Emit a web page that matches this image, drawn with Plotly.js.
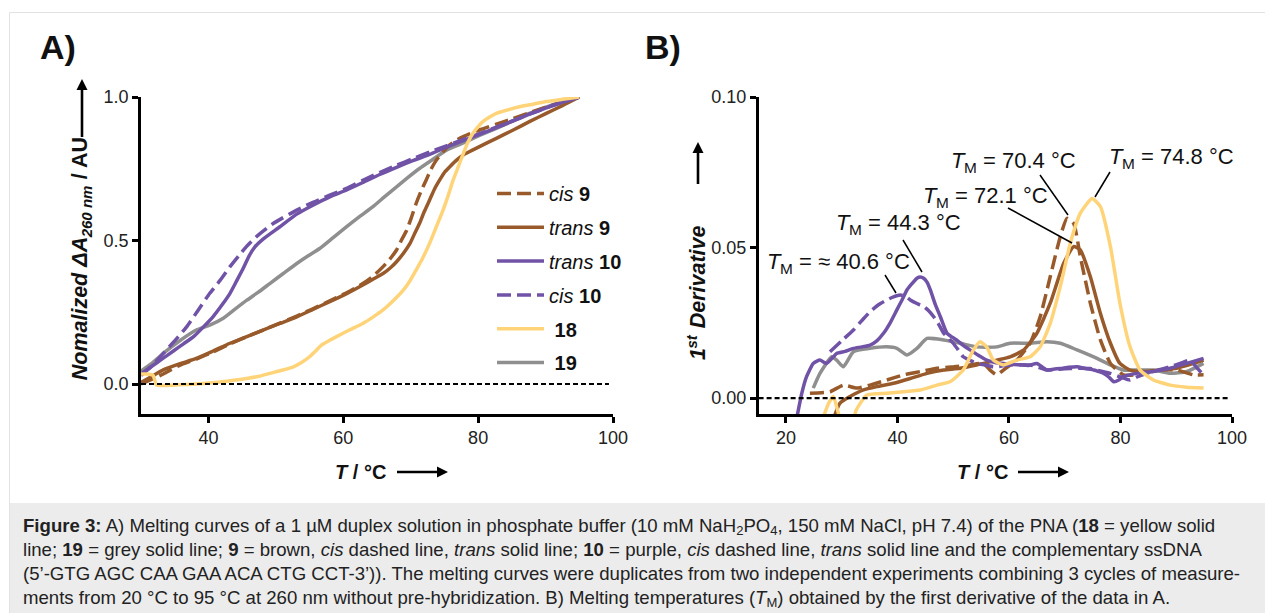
<!DOCTYPE html>
<html>
<head>
<meta charset="utf-8">
<script src="https://cdn.plot.ly/plotly-3.0.1.min.js"></script>
<style>
  html, body { margin: 0; padding: 0; background: #ffffff; }
  #chart { position: absolute; left: 0; top: 0; width: 1265px; height: 613px; }
  #cap { position: absolute; left: 23px; top: 514px; font-family: 'Liberation Sans', Arial, Helvetica, sans-serif;
         font-size: 18.6px; color: #222; line-height: 24px; white-space: nowrap; pointer-events: none; }
  #cap sub { font-size: 70%; line-height: 0; vertical-align: -0.25em; }
</style>
</head>
<body>
<div id="chart"></div>
<div id="cap"></div>
<script>
// ---------------- DATA: panel A (normalized absorbance) ----------------
const aTrans10X = [30, 31.5, 33.3, 34.8, 36.3, 37.8, 39.3, 40.7, 42.0, 43.2, 44.2, 45.2, 46.0, 46.9, 48.1, 50.6, 53.1, 55.5, 58.0, 60.5, 62.9, 65.4, 67.9, 70.3, 72.8, 75.3, 77.8, 80.2, 82.7, 85.2, 87.6, 90.1, 92.5, 95];
const aTrans10Y = [0.035, 0.06, 0.09, 0.115, 0.14, 0.165, 0.20, 0.235, 0.275, 0.316, 0.36, 0.405, 0.445, 0.478, 0.505, 0.548, 0.592, 0.623, 0.652, 0.676, 0.702, 0.73, 0.755, 0.778, 0.80, 0.825, 0.848, 0.87, 0.893, 0.917, 0.94, 0.962, 0.982, 1.0];

const aCis10X = [30, 31.5, 33.3, 35.0, 36.8, 38.5, 40.2, 41.7, 43.2, 44.5, 45.6, 47.1, 49.6, 53.1, 55.5, 58.0, 60.5, 62.9, 65.4, 67.9, 70.3, 72.8, 75.3, 77.8, 80.2, 82.7, 85.2, 87.6, 90.1, 92.5, 95];
const aCis10Y = [0.03, 0.06, 0.107, 0.15, 0.20, 0.258, 0.316, 0.36, 0.409, 0.447, 0.478, 0.513, 0.559, 0.606, 0.633, 0.658, 0.682, 0.71, 0.737, 0.762, 0.785, 0.808, 0.83, 0.852, 0.872, 0.895, 0.918, 0.94, 0.962, 0.982, 1.0];

const a19X = [30, 31.5, 33.3, 35.7, 38.2, 40.2, 42.2, 43.9, 45.7, 47.4, 49.1, 51.1, 53.1, 54.8, 56.5, 58.5, 60.5, 62.4, 64.4, 66.1, 67.9, 69.6, 71.3, 73.3, 75.3, 77.8, 80.2, 82.7, 85.2, 87.6, 90.1, 92.5, 95];
const a19Y = [0.045, 0.07, 0.107, 0.15, 0.188, 0.205, 0.229, 0.26, 0.292, 0.32, 0.35, 0.385, 0.42, 0.447, 0.472, 0.51, 0.548, 0.583, 0.618, 0.652, 0.687, 0.72, 0.751, 0.783, 0.815, 0.84, 0.866, 0.891, 0.917, 0.943, 0.965, 0.983, 1.0];

const aTrans9X = [30, 31.5, 33.3, 35.7, 38.2, 40.7, 43.2, 45.7, 48.1, 50.6, 53.1, 55.5, 58.0, 60.5, 62.9, 64.4, 65.9, 67.0, 67.9, 68.9, 69.9, 70.6, 71.3, 72.0, 72.8, 73.5, 74.3, 75.0, 75.8, 76.8, 77.8, 79.0, 80.2, 82.7, 85.2, 87.6, 90.1, 92.5, 95];
const aTrans9Y = [0.005, 0.025, 0.049, 0.07, 0.089, 0.115, 0.142, 0.165, 0.188, 0.211, 0.234, 0.26, 0.287, 0.315, 0.345, 0.365, 0.385, 0.405, 0.426, 0.455, 0.49, 0.525, 0.559, 0.60, 0.641, 0.678, 0.711, 0.737, 0.757, 0.78, 0.798, 0.813, 0.827, 0.856, 0.885, 0.914, 0.943, 0.97, 1.0];

const aCis9X = [30, 31.5, 33.3, 35.7, 38.2, 40.7, 43.2, 45.7, 48.1, 50.6, 53.1, 55.5, 58.0, 60.5, 62.9, 64.4, 65.9, 66.9, 67.9, 68.6, 69.4, 70.1, 70.8, 71.5, 72.3, 73.0, 73.8, 74.8, 75.8, 76.8, 77.8, 80.2, 82.7, 85.2, 87.6, 90.1, 92.5, 95];
const aCis9Y = [0.0, 0.015, 0.035, 0.065, 0.087, 0.112, 0.14, 0.165, 0.188, 0.212, 0.237, 0.262, 0.29, 0.318, 0.35, 0.375, 0.409, 0.435, 0.467, 0.5, 0.536, 0.58, 0.629, 0.67, 0.711, 0.748, 0.78, 0.81, 0.833, 0.85, 0.862, 0.885, 0.905, 0.925, 0.945, 0.965, 0.983, 1.0];

const a18X = [30, 31.0, 31.8, 32.3, 33.5, 35.5, 38.2, 41.0, 43.5, 45.7, 47.5, 49.1, 50.9, 52.6, 53.8, 55.0, 55.9, 56.8, 57.8, 59.0, 60.9, 62.9, 64.4, 65.9, 67.4, 68.9, 69.9, 70.8, 71.8, 72.8, 73.8, 74.8, 75.6, 76.3, 77.1, 77.8, 78.5, 79.2, 80.0, 80.7, 81.7, 82.7, 84.4, 86.1, 88.1, 90.1, 92.5, 95];
const a18Y = [0.035, 0.035, 0.03, -0.004, -0.005, -0.003, 0.0, 0.005, 0.012, 0.019, 0.027, 0.037, 0.048, 0.06, 0.075, 0.095, 0.115, 0.136, 0.15, 0.165, 0.188, 0.211, 0.233, 0.258, 0.29, 0.327, 0.36, 0.397, 0.44, 0.49, 0.548, 0.606, 0.66, 0.711, 0.76, 0.803, 0.843, 0.873, 0.897, 0.914, 0.93, 0.943, 0.955, 0.966, 0.975, 0.984, 0.992, 1.0];

// ---------------- DATA: panel B (first derivative) ----------------
const bTrans10X = [21.8, 22.85, 23.7, 24.9, 26.1, 27.3, 29.1, 30.6, 32.1, 33.6, 35.1, 36.3, 37.5, 38.7, 39.9, 40.8, 41.7, 42.6, 43.5, 44.1, 44.7, 45.3, 45.9, 46.8, 47.7, 48.9, 50.6, 51.8, 53.0, 54.5, 56.0, 57.5, 59.0, 60.5, 62.0, 63.5, 65.0, 66.8, 68.0, 69.2, 70.7, 72.2, 73.7, 75.2, 76.1, 77.0, 77.9, 78.8, 79.7, 80.5, 82.9, 85.9, 88.9, 91.9, 94.9];
const bTrans10Y = [-0.008, 0.0016, 0.0071, 0.0115, 0.0126, 0.0115, 0.0148, 0.0155, 0.0165, 0.017, 0.0176, 0.019, 0.0215, 0.025, 0.0293, 0.0325, 0.0359, 0.038, 0.0398, 0.0402, 0.0398, 0.0385, 0.0359, 0.031, 0.027, 0.0215, 0.0193, 0.0175, 0.016, 0.0142, 0.0126, 0.0118, 0.0115, 0.0112, 0.011, 0.0108, 0.0115, 0.0093, 0.0096, 0.0098, 0.0102, 0.0104, 0.0098, 0.0093, 0.0088, 0.0082, 0.007, 0.0054, 0.006, 0.0071, 0.0082, 0.0088, 0.0099, 0.0115, 0.0132];

const bCis10X = [27.9, 30.0, 32.1, 33.6, 35.1, 36.6, 38.1, 39.3, 40.5, 41.4, 42.3, 43.5, 44.7, 45.6, 46.5, 47.4, 48.3, 49.2, 50.0, 50.9, 51.8, 53.0, 54.2, 55.7, 57.2, 58.7, 60.2, 62.0, 63.8, 65.3, 66.8, 69.0, 71.0, 72.8, 74.6, 76.4, 78.2, 80.0, 81.7, 83.2, 84.7, 86.8, 88.9, 90.7, 92.5, 93.7, 94.9];
const bCis10Y = [0.0154, 0.019, 0.0226, 0.0257, 0.0287, 0.031, 0.0326, 0.0336, 0.0342, 0.0338, 0.0326, 0.0314, 0.0304, 0.029, 0.027, 0.0245, 0.0215, 0.0198, 0.0182, 0.016, 0.0137, 0.0125, 0.0115, 0.011, 0.0104, 0.0106, 0.011, 0.0111, 0.011, 0.0102, 0.0093, 0.0096, 0.0098, 0.0099, 0.0098, 0.009, 0.0082, 0.007, 0.006, 0.0072, 0.0082, 0.0093, 0.0104, 0.0115, 0.0126, 0.01, 0.0077];

const b19X = [24.9, 26.1, 28.2, 29.1, 30.3, 32.1, 35.1, 38.1, 39.9, 41.7, 43.5, 45.3, 48.3, 51.3, 54.2, 57.8, 60.2, 63.8, 66.8, 69.2, 72.2, 75.2, 78.2, 80.5, 82.9, 85.9, 88.9, 91.9, 94.9];
const b19Y = [0.0033, 0.0082, 0.0137, 0.0126, 0.0104, 0.0154, 0.0165, 0.017, 0.0165, 0.0143, 0.0165, 0.0198, 0.0193, 0.0182, 0.017, 0.017, 0.0182, 0.0182, 0.0187, 0.0182, 0.016, 0.0137, 0.011, 0.0093, 0.0093, 0.0093, 0.0082, 0.0088, 0.0115];

const bCis9X = [24.3, 27.9, 30.3, 32.7, 35.1, 38.1, 41.1, 44.1, 47.1, 50.1, 53.0, 55.4, 56.6, 57.8, 59.0, 61.4, 63.8, 65.6, 67.4, 69.2, 70.4, 71.6, 72.8, 74.6, 76.4, 78.2, 80.5, 82.9, 86.5, 90.1, 93.1, 94.9];
const bCis9Y = [0.0016, 0.0021, 0.0043, 0.0033, 0.0043, 0.006, 0.0077, 0.0088, 0.0099, 0.0104, 0.011, 0.0115, 0.0093, 0.0077, 0.0093, 0.0126, 0.0182, 0.027, 0.0403, 0.0536, 0.0597, 0.058, 0.047, 0.0315, 0.0193, 0.0115, 0.0077, 0.0077, 0.0093, 0.0093, 0.0077, 0.0077];

const bTrans9X = [28.3, 29.7, 31.5, 33.9, 36.3, 39.3, 42.3, 45.3, 48.3, 51.2, 54.2, 57.8, 60.2, 62.6, 65.0, 67.4, 69.8, 71.6, 72.8, 74.6, 76.4, 78.2, 79.9, 81.7, 84.1, 87.1, 90.1, 93.1, 94.9];
const bTrans9Y = [-0.008, -0.0017, 0.0005, 0.0027, 0.0038, 0.0049, 0.0065, 0.0082, 0.0093, 0.0099, 0.011, 0.0126, 0.0137, 0.0159, 0.0215, 0.0315, 0.0447, 0.0503, 0.0492, 0.0403, 0.0281, 0.0182, 0.0115, 0.0093, 0.0088, 0.0093, 0.0099, 0.0115, 0.0126];

const b18X = [26.4, 27.6, 28.5, 29.4, 30.0, 31.8, 32.6, 34.5, 38.1, 41.1, 44.1, 47.1, 49.5, 51.8, 53.6, 54.8, 56.0, 57.2, 59.0, 61.4, 63.8, 65.6, 67.4, 69.2, 71.0, 72.8, 74.9, 76.4, 78.2, 79.9, 81.7, 83.5, 85.9, 88.9, 91.9, 94.9];
const b18Y = [-0.008, -0.002, 0.0005, -0.005, -0.009, -0.009, -0.004, 0.001, 0.0016, 0.0021, 0.0027, 0.0043, 0.0055, 0.0093, 0.0159, 0.0187, 0.017, 0.0126, 0.011, 0.0126, 0.0137, 0.017, 0.0248, 0.037, 0.0514, 0.0614, 0.0663, 0.0636, 0.0503, 0.0315, 0.0171, 0.0093, 0.006, 0.0043, 0.0036, 0.0033];

// Tm labels of panel B
const tmLabels = ['≈ 40.6', '44.3', '72.1', '70.4', '74.8'];

// Caption lines
const capLines = [
  '<b>Figure 3:</b> A) Melting curves of a 1 µM duplex solution in phosphate buffer (10 mM NaH<sub>2</sub>PO<sub>4</sub>, 150 mM NaCl, pH 7.4) of the PNA (<b>18</b> = yellow solid',
  'line; <b>19</b> = grey solid line; <b>9</b> = brown, <i>cis</i> dashed line, <i>trans</i> solid line; <b>10</b> = purple, <i>cis</i> dashed line, <i>trans</i> solid line and the complementary ssDNA',
  '(5’-GTG AGC CAA GAA ACA CTG CCT-3’)). The melting curves were duplicates from two independent experiments combining 3 cycles of measure-',
  'ments from 20 °C to 95 °C at 260 nm without pre-hybridization. B) Melting temperatures (<i>T</i><sub>M</sub>) obtained by the first derivative of the data in A.'
];

// ---------------- styling ----------------
const BROWN = '#985a2a', PURPLE = '#7053a6', YELLOW = '#ffd479', GRAY = '#8f8f8f';
const W = 1265, H = 613;
const px = v => v / W;
const py = v => 1 - v / H;
const FONT = 'Liberation Sans, Arial, Helvetica, sans-serif';
const LW = 3.5;
const DASH = '14px,6px';

function tr(x, y, color, dash, name, group, rank, xa, ya, show) {
  return {
    x: x, y: y, type: 'scatter', mode: 'lines', name: name,
    legendgroup: group, legendrank: rank, showlegend: show,
    xaxis: xa, yaxis: ya, hoverinfo: 'skip',
    line: { color: color, width: LW, dash: dash, shape: 'spline', smoothing: 0.5 }
  };
}

const data = [
  tr(a19X, a19Y, GRAY, 'solid', ' <b>19</b>', 'g19', 6, 'x', 'y', true),
  tr(aCis9X, aCis9Y, BROWN, DASH, '<i>cis</i> <b>9</b>', 'gc9', 1, 'x', 'y', true),
  tr(aTrans9X, aTrans9Y, BROWN, 'solid', '<i>trans</i> <b>9</b>', 'gt9', 2, 'x', 'y', true),
  tr(aCis10X, aCis10Y, PURPLE, DASH, '<i>cis</i> <b>10</b>', 'gc10', 4, 'x', 'y', true),
  tr(aTrans10X, aTrans10Y, PURPLE, 'solid', '<i>trans</i> <b>10</b>', 'gt10', 3, 'x', 'y', true),
  tr(a18X, a18Y, YELLOW, 'solid', ' <b>18</b>', 'g18', 5, 'x', 'y', true),

  tr(b19X, b19Y, GRAY, 'solid', '19', 'g19', 6, 'x2', 'y2', false),
  tr(bCis9X, bCis9Y, BROWN, DASH, 'cis 9', 'gc9', 1, 'x2', 'y2', false),
  tr(bTrans9X, bTrans9Y, BROWN, 'solid', 'trans 9', 'gt9', 2, 'x2', 'y2', false),
  tr(bCis10X, bCis10Y, PURPLE, DASH, 'cis 10', 'gc10', 4, 'x2', 'y2', false),
  tr(bTrans10X, bTrans10Y, PURPLE, 'solid', 'trans 10', 'gt10', 3, 'x2', 'y2', false),
  tr(b18X, b18Y, YELLOW, 'solid', '18', 'g18', 5, 'x2', 'y2', false)
];

const axisCommon = {
  showgrid: false, zeroline: false, showline: true, linecolor: '#000', linewidth: 2.5,
  ticks: 'outside', ticklen: 6, tickwidth: 2.5, tickcolor: '#000',
  tickfont: { family: FONT, size: 18, color: '#222' }, fixedrange: true
};

const yDom = [py(414), py(97)];

const shapes = [
  // caption background and figure frame
  { type: 'rect', xref: 'paper', yref: 'paper', x0: px(9.5), x1: px(1266), y0: py(614), y1: py(503), fillcolor: '#ececec', line: { width: 0 }, layer: 'below' },
  { type: 'rect', xref: 'paper', yref: 'paper', x0: px(9.5), x1: px(1270), y0: py(620), y1: py(12.5), fillcolor: 'rgba(0,0,0,0)', line: { color: '#e2e2e2', width: 1 }, layer: 'below' },
  // zero reference lines
  { type: 'line', xref: 'x', yref: 'y', x0: 30, x1: 99.4, y0: 0, y1: 0, line: { color: '#000', width: 2.2, dash: '5px,3px' } },
  { type: 'line', xref: 'x2', yref: 'y2', x0: 15.1, x1: 99.6, y0: 0, y1: 0, line: { color: '#000', width: 2.2, dash: '5px,3px' } },
  // Tm leader lines
  { type: 'line', xref: 'paper', yref: 'paper', x0: px(885), y0: py(275), x1: px(896), y1: py(293), line: { color: '#000', width: 1.5 } },
  { type: 'line', xref: 'paper', yref: 'paper', x0: px(903), y0: py(240), x1: px(922), y1: py(272), line: { color: '#000', width: 1.5 } },
  { type: 'line', xref: 'paper', yref: 'paper', x0: px(1008), y0: py(208), x1: px(1072), y1: py(243), line: { color: '#000', width: 1.5 } },
  { type: 'line', xref: 'paper', yref: 'paper', x0: px(1040), y0: py(175), x1: px(1068), y1: py(215), line: { color: '#000', width: 1.5 } },
  { type: 'line', xref: 'paper', yref: 'paper', x0: px(1110), y0: py(172), x1: px(1095), y1: py(197), line: { color: '#000', width: 1.5 } }
];

// arrow = shaft line + filled triangular head (pixel coordinates converted to paper)
function arrowShape(x0, y0, x1, y1) {
  const dx = x1 - x0, dy = y1 - y0, L = Math.hypot(dx, dy);
  const ux = dx / L, uy = dy / L, head = 11, half = 5.5;
  const bx = x1 - ux * head, by = y1 - uy * head;
  shapes.push({ type: 'line', xref: 'paper', yref: 'paper', x0: px(x0), y0: py(y0), x1: px(bx + ux), y1: py(by + uy), line: { color: '#000', width: 2.6 } });
  const p1 = [bx - uy * half, by + ux * half], p2 = [bx + uy * half, by - ux * half];
  shapes.push({
    type: 'path', xref: 'paper', yref: 'paper', fillcolor: '#000', line: { width: 0 },
    path: 'M' + px(x1) + ',' + py(y1) + ' L' + px(p1[0]) + ',' + py(p1[1]) + ' L' + px(p2[0]) + ',' + py(p2[1]) + ' Z'
  });
}
arrowShape(397, 472, 448, 472);     // A x-axis arrow
arrowShape(1018, 472, 1069, 472);   // B x-axis arrow
arrowShape(82, 137, 82, 79);        // A y-axis arrow
arrowShape(698, 184, 698, 142);     // B y-axis arrow

const layout = {
  width: W, height: H,
  margin: { l: 0, r: 0, t: 0, b: 0, pad: 0 },
  paper_bgcolor: 'rgba(0,0,0,0)', plot_bgcolor: 'rgba(0,0,0,0)',
  font: { family: FONT, color: '#111' },
  showlegend: true,
  legend: {
    x: px(492), y: py(174), xanchor: 'left', yanchor: 'top',
    bgcolor: 'rgba(0,0,0,0)', borderwidth: 0,
    font: { family: FONT, size: 20, color: '#111' },
    traceorder: 'grouped', tracegroupgap: 4.8, itemwidth: 47, itemclick: false, itemdoubleclick: false
  },
  xaxis: Object.assign({}, axisCommon, {
    domain: [px(141), px(613)], range: [30, 100], tickvals: [40, 60, 80, 100], anchor: 'y'
  }),
  yaxis: Object.assign({}, axisCommon, {
    domain: yDom, range: [-0.1045, 1.0], tickvals: [0, 0.5, 1.0], ticktext: ['0.0', '0.5', '1.0'], anchor: 'x'
  }),
  xaxis2: Object.assign({}, axisCommon, {
    domain: [px(758.6), px(1232)], range: [15.1, 100], tickvals: [20, 40, 60, 80, 100], anchor: 'y2'
  }),
  yaxis2: Object.assign({}, axisCommon, {
    domain: yDom, range: [-0.0053, 0.10], tickvals: [0, 0.05, 0.10], ticktext: ['0.00', '0.05', '0.10'], anchor: 'x2'
  }),
  shapes: shapes,
  annotations: []
};

const ann = layout.annotations;
function txt(text, x, y, size, opts) {
  ann.push(Object.assign({
    xref: 'paper', yref: 'paper', x: px(x), y: py(y), text: text, showarrow: false,
    xanchor: 'left', yanchor: 'middle', font: { family: FONT, size: size, color: '#111' }
  }, opts || {}));
}

// text measuring, used to set runs of differently styled text (sub/superscripts) side by side
const ctx = document.createElement('canvas').getContext('2d');
function measure(t, size, b, i) {
  if (!t) return 0;
  ctx.font = (i ? 'italic ' : '') + (b ? 'bold ' : '') + size + 'px "Liberation Sans", Arial, sans-serif';
  return ctx.measureText(t).width;
}
function fontOf(sg, s) {
  return { family: FONT, size: s, color: '#111', weight: sg.b ? 'bold' : 'normal', style: sg.i ? 'italic' : 'normal' };
}
// horizontal run: x0 = left edge, yMid = vertical centre of the main-size text
function hRun(segs, x0, yMid, size) {
  let cur = x0;
  segs.forEach(sg => {
    const s = (sg.sub || sg.sup) ? size * 0.7 : size;
    const m = sg.t.match(/^(\s*)(.*?)(\s*)$/);
    cur += measure(m[1], s, sg.b, sg.i);
    if (m[2]) {
      const yc = yMid + (sg.sub ? 0.314 * size : sg.sup ? -0.316 * size : 0);
      ann.push({ xref: 'paper', yref: 'paper', x: px(cur), y: py(yc), xanchor: 'left', yanchor: 'middle',
                 text: m[2], showarrow: false, borderpad: 0, borderwidth: 0, font: fontOf(sg, s) });
      cur += measure(m[2], s, sg.b, sg.i);
    }
    cur += measure(m[3], s, sg.b, sg.i);
  });
}
// vertical run reading bottom-to-top: xMid = centre of main text, y0 = bottom start
function vRun(segs, xMid, y0, size) {
  let cur = y0;
  segs.forEach(sg => {
    const s = (sg.sub || sg.sup) ? size * 0.7 : size;
    const m = sg.t.match(/^(\s*)(.*?)(\s*)$/);
    cur -= measure(m[1], s, sg.b, sg.i);
    if (m[2]) {
      const w = measure(m[2], s, sg.b, sg.i);
      const xc = xMid + (sg.sub ? 0.314 * size : sg.sup ? -0.316 * size : 0);
      ann.push({ xref: 'paper', yref: 'paper', x: px(xc), y: py(cur - w / 2), xanchor: 'center', yanchor: 'middle',
                 textangle: -90, text: m[2], showarrow: false, borderpad: 0, borderwidth: 0, font: fontOf(sg, s) });
      cur -= w;
    }
    cur -= measure(m[3], s, sg.b, sg.i);
  });
}

// Panel labels
txt('A)', 38, 47, 34, { font: { family: FONT, size: 34, color: '#111', weight: 'bold' } });
txt('B)', 643, 47, 34, { font: { family: FONT, size: 34, color: '#111', weight: 'bold' } });

// x-axis titles
txt('<b><i>T</i> / °C</b>', 360, 472, 20, { xanchor: 'center' });
txt('<b><i>T</i> / °C</b>', 983, 472, 20, { xanchor: 'center' });

// y-axis titles
vRun([{ t: 'Nomalized ΔA', b: 1, i: 1 }, { t: '260 nm', b: 1, i: 1, sub: 1 }, { t: ' / AU', b: 1 }], 80, 381, 21.5);
vRun([{ t: '1', b: 1, i: 1 }, { t: 'st', b: 1, i: 1, sup: 1 }, { t: ' Derivative', b: 1, i: 1 }], 698, 360, 21.5);

// Tm labels
const tmPos = [[767, 261.5], [836, 222.5], [923, 195.5], [951, 160.5], [1109, 156.5]];
tmLabels.forEach((v, i) => {
  hRun([{ t: 'T', i: 1 }, { t: 'M', sub: 1 }, { t: ' = ' + v + ' °C' }], tmPos[i][0], tmPos[i][1], 22);
});

// Caption (HTML text under the chart)
document.getElementById('cap').innerHTML = capLines.map(l => '<div>' + l + '</div>').join('');

Plotly.newPlot('chart', data, layout, { displayModeBar: false, responsive: false });
</script>
</body>
</html>
